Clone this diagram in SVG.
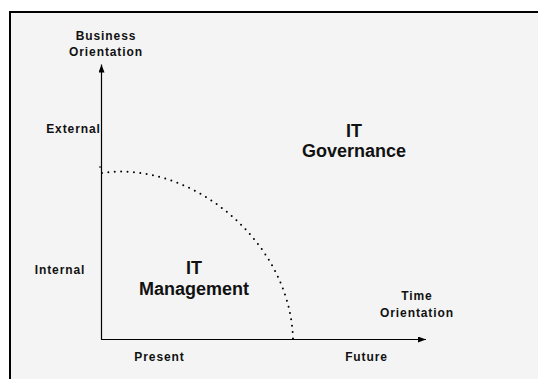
<svg xmlns="http://www.w3.org/2000/svg" width="538" height="379" viewBox="0 0 538 379">
  <style>
    .lbl { font-family: "Liberation Sans", Arial, sans-serif; font-weight: bold; fill: #111; text-anchor: middle; }
    .small { font-size: 12px; letter-spacing: 0.9px; }
    .big { font-size: 18px; }
    .axis { stroke: #000; stroke-width: 1.2; fill: none; }
    .bound { stroke: #000; stroke-width: 2; fill: none; stroke-dasharray: 0 6.4; stroke-linecap: round; }
  </style>
  <defs>
    <marker id="arrow" viewBox="0 0 8 6" refX="8" refY="3" markerWidth="8" markerHeight="6" markerUnits="userSpaceOnUse" orient="auto">
      <path d="M0,0 L8,3 L0,6 Z" fill="#000"/>
    </marker>
  </defs>

  <!-- page and frame -->
  <rect x="0" y="0" width="538" height="379" fill="#fff"/>
  <rect x="10" y="12" width="600" height="420" fill="#f4f4f4" stroke="#000" stroke-width="2"/>

  <!-- axes and the management/governance boundary -->
  <g id="connectors">
    <line class="axis" x1="101.5" y1="339.5" x2="101.5" y2="64.5" marker-end="url(#arrow)"/>
    <line class="axis" x1="101" y1="339.5" x2="426" y2="339.5" marker-end="url(#arrow)"/>
    <line x1="99" y1="167" x2="101.5" y2="167" stroke="#000" stroke-width="1"/>
    <path class="bound" d="M102,173 C190,160 290,240 293,339"/>
  </g>

  <g id="business-orientation">
    <text class="lbl small" x="106" y="39.5">Business</text>
    <text class="lbl small" x="106" y="55.5">Orientation</text>
  </g>
  <g id="external">
    <text class="lbl small" x="73.5" y="132.5">External</text>
  </g>
  <g id="internal">
    <text class="lbl small" x="60" y="274">Internal</text>
  </g>
  <g id="it-governance">
    <text class="lbl big" x="354" y="136.5">IT</text>
    <text class="lbl big" x="354" y="157">Governance</text>
  </g>
  <g id="it-management">
    <text class="lbl big" x="194" y="274">IT</text>
    <text class="lbl big" x="194" y="295">Management</text>
  </g>
  <g id="time-orientation">
    <text class="lbl small" x="417" y="300">Time</text>
    <text class="lbl small" x="417" y="316.5">Orientation</text>
  </g>
  <g id="present">
    <text class="lbl small" x="159.5" y="361">Present</text>
  </g>
  <g id="future">
    <text class="lbl small" x="366.5" y="361">Future</text>
  </g>
</svg>
